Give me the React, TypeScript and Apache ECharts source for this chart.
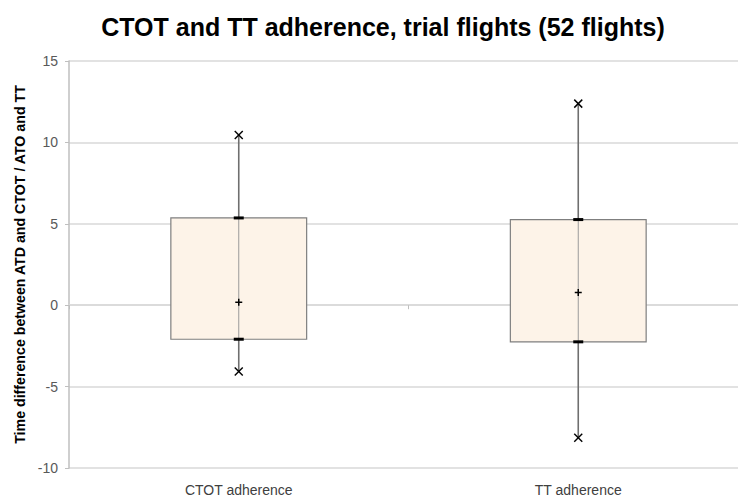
import React, { useEffect, useRef } from "react";
import * as echarts from "echarts";

const categories = ["CTOT adherence", "TT adherence"];
const minValues = [-4.07, -8.14];
const q1Values = [-2.09, -2.25];
const meanValues = [0.18, 0.78];
const q3Values = [5.36, 5.26];
const maxValues = [10.46, 12.38];
const yTicks = { min: -10, max: 15, interval: 5 };

const FONT = "'Liberation Sans', sans-serif";

export default function App() {
  const ref = useRef<HTMLDivElement>(null);
  useEffect(() => {
    if (!ref.current) return;
    const chart = echarts.init(ref.current, null, { renderer: "svg" });
    const data = categories.map((_, i) => [i, minValues[i], q1Values[i], meanValues[i], q3Values[i], maxValues[i]]);
    const boxColor = "#fdf3e8";
    const lineColor = "#7f7f7f";
    chart.setOption({
      animation: false,
      title: {
        text: "CTOT and TT adherence, trial flights (52 flights)",
        left: 378,
        textAlign: "center",
        top: 9,
        textStyle: { fontFamily: FONT, fontWeight: "bold", fontSize: 25, color: "#000" },
      },
      grid: { left: 69, right: 0, top: 61, bottom: 31 },
      xAxis: [
        {
          type: "category",
          data: categories,
          axisLine: { show: false, onZero: false },
          axisTick: { show: false },
          axisLabel: { fontFamily: FONT, fontSize: 14, color: "#404040", margin: 15 },
          splitLine: { show: false },
        },
        {
          type: "category",
          data: categories,
          position: "bottom",
          axisLine: { show: true, onZero: true, lineStyle: { color: "#d9d9d9", width: 1.5 } },
          axisTick: { show: true, length: 4, lineStyle: { color: "#bfbfbf" } },
          axisLabel: { show: false },
        },
      ],
      yAxis: {
        type: "value",
        min: yTicks.min,
        max: yTicks.max,
        interval: yTicks.interval,
        name: "Time difference between ATD and CTOT / ATO and TT",
        nameLocation: "middle",
        nameGap: 42,
        nameTextStyle: { fontFamily: FONT, fontWeight: "bold", fontSize: 14.2, color: "#000" },
        axisLine: { show: true, lineStyle: { color: "#bfbfbf", width: 1.5 } },
        axisTick: { show: true, length: 4, lineStyle: { color: "#bfbfbf" } },
        axisLabel: { fontFamily: FONT, fontSize: 14, color: "#595959", margin: 11 },
        splitLine: { lineStyle: { color: "#d9d9d9", width: 1.5 } },
      },
      series: [
        {
          type: "custom",
          xAxisIndex: 0,
          data,
          encode: { x: 0, y: [1, 2, 3, 4, 5] },
          renderItem: (params: any, api: any) => {
            const idx = api.value(0);
            const pMin = api.coord([idx, api.value(1)]);
            const pQ1 = api.coord([idx, api.value(2)]);
            const pMean = api.coord([idx, api.value(3)]);
            const pQ3 = api.coord([idx, api.value(4)]);
            const pMax = api.coord([idx, api.value(5)]);
            const bw = api.size([1, 0])[0] * 0.4;
            const cx = pQ1[0];
            const xs = 4;
            const ps = 3.5;
            return {
              type: "group",
              children: [
                {
                  type: "rect",
                  shape: { x: cx - bw / 2, y: pQ3[1], width: bw, height: pQ1[1] - pQ3[1] },
                  style: { fill: boxColor, stroke: lineColor, lineWidth: 1.2 },
                },
                {
                  type: "line",
                  shape: { x1: cx, y1: pMax[1], x2: cx, y2: pQ3[1] },
                  style: { stroke: "#6f6f6f", lineWidth: 1.6 },
                },
                {
                  type: "line",
                  shape: { x1: cx, y1: pQ1[1], x2: cx, y2: pMin[1] },
                  style: { stroke: "#6f6f6f", lineWidth: 1.6 },
                },
                {
                  type: "line",
                  shape: { x1: cx, y1: pQ3[1], x2: cx, y2: pQ1[1] },
                  style: { stroke: "#9a9a9a", lineWidth: 1 },
                },
                {
                  type: "rect",
                  shape: { x: cx - 5, y: pQ3[1] - 1.5, width: 10, height: 3 },
                  style: { fill: "#000" },
                },
                {
                  type: "rect",
                  shape: { x: cx - 5, y: pQ1[1] - 1.5, width: 10, height: 3 },
                  style: { fill: "#000" },
                },
                {
                  type: "line",
                  shape: { x1: cx - xs, y1: pMax[1] - xs, x2: cx + xs, y2: pMax[1] + xs },
                  style: { stroke: "#000", lineWidth: 1.5 },
                },
                {
                  type: "line",
                  shape: { x1: cx - xs, y1: pMax[1] + xs, x2: cx + xs, y2: pMax[1] - xs },
                  style: { stroke: "#000", lineWidth: 1.5 },
                },
                {
                  type: "line",
                  shape: { x1: cx - xs, y1: pMin[1] - xs, x2: cx + xs, y2: pMin[1] + xs },
                  style: { stroke: "#000", lineWidth: 1.5 },
                },
                {
                  type: "line",
                  shape: { x1: cx - xs, y1: pMin[1] + xs, x2: cx + xs, y2: pMin[1] - xs },
                  style: { stroke: "#000", lineWidth: 1.5 },
                },
                {
                  type: "line",
                  shape: { x1: cx - ps, y1: pMean[1], x2: cx + ps, y2: pMean[1] },
                  style: { stroke: "#000", lineWidth: 1.5 },
                },
                {
                  type: "line",
                  shape: { x1: cx, y1: pMean[1] - ps, x2: cx, y2: pMean[1] + ps },
                  style: { stroke: "#000", lineWidth: 1.5 },
                },
              ],
            };
          },
        },
      ],
    });
    return () => chart.dispose();
  }, []);
  return (
    <div style={{ position: "absolute", left: 0, top: 0, width: 738, height: 499, overflow: "hidden" }}>
      <div ref={ref} style={{ width: 748, height: 499 }} />
    </div>
  );
}
